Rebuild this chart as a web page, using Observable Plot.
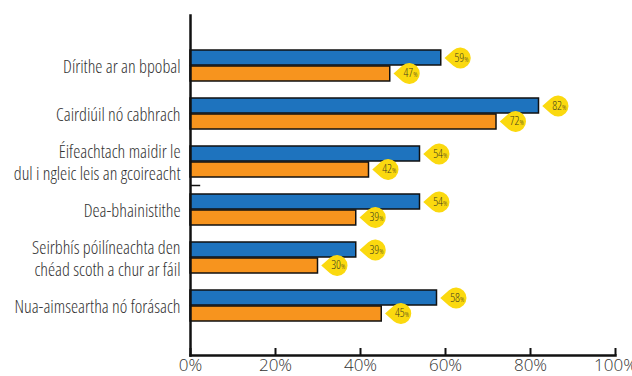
<!DOCTYPE html>
<html>
<head>
<meta charset="utf-8">
<script src="https://cdn.jsdelivr.net/npm/d3@7"></script>
<script src="https://cdn.jsdelivr.net/npm/@observablehq/plot@0.6"></script>
<style>
  html, body { margin: 0; padding: 0; background: #fff; }
  #chart svg { display: block; overflow: visible; }
  .yax text, .bub text { font-stretch: 85%; }
</style>
</head>
<body>
<div id="chart"></div>
<script>
const categories = [
  "Dírithe ar an bpobal",
  "Cairdiúil nó cabhrach",
  "Éifeachtach maidir le\ndul i ngleic leis an gcoireacht",
  "Dea-bhainistithe",
  "Seirbhís póilíneachta den\nchéad scoth a chur ar fáil",
  "Nua-aimseartha nó forásach"
];
const seriesNames = ["Sraith 1", "Sraith 2"];
const series1 = [59, 82, 54, 54, 39, 58];
const series2 = [47, 72, 42, 39, 30, 45];
const xTicks = [0, 20, 40, 60, 80, 100];

const rows1 = categories.map((c, i) => ({cat: c, series: seriesNames[0], value: series1[i]}));
const rows2 = categories.map((c, i) => ({cat: c, series: seriesNames[1], value: series2[i]}));

const blue = "#1e73be";
const orange = "#f7941e";
const yellow = "#fbd90f";
const labelColor = "#44401f";
const font = "'Open Sans', 'DejaVu Sans', sans-serif";

// teardrop symbol pointing left
const teardrop = {
  draw(context, size) {
    const r = Math.sqrt(size / Math.PI);
    const d = 1.5 * r;
    const a = Math.acos(r / d);
    context.moveTo(-d, 0);
    context.lineTo(r * Math.cos(Math.PI + a), r * Math.sin(Math.PI + a));
    context.arc(0, 0, r, Math.PI + a, 3 * Math.PI - a);
    context.closePath();
  }
};

function labelMarks(rows, dy) {
  return [
    Plot.dot(rows, {x: "value", y: "cat", symbol: teardrop, r: 10.5, fill: yellow, stroke: "none", dx: 19, dy}),
    Plot.text(rows, {x: "value", y: "cat", text: d => String(d.value), dx: 23, dy, textAnchor: "end", fontSize: 12, fill: labelColor, fontFamily: font, className: "bub"}),
    Plot.text(rows, {x: "value", y: "cat", text: () => "%", dx: 23, dy: dy + 1.5, textAnchor: "start", fontSize: 7, fill: labelColor, fontFamily: font, className: "bub"})
  ];
}

const chart = Plot.plot({
  width: 632,
  height: 376,
  marginLeft: 190,
  marginRight: 17,
  marginTop: 15,
  marginBottom: 21,
  style: {fontFamily: font, fontWeight: 300, background: "#fff", color: "#333"},
  x: {domain: [0, 100], label: null},
  y: {domain: categories, paddingInner: 0, paddingOuter: 0.54, label: null},
  marks: [
    Plot.barX(rows1, {x: "value", y: "cat", fill: blue, stroke: "#111", strokeWidth: 1.5, insetTop: 9, insetBottom: 24}),
    Plot.barX(rows2, {x: "value", y: "cat", fill: orange, stroke: "#111", strokeWidth: 1.5, insetTop: 25, insetBottom: 8}),
    ...labelMarks(rows1, -7.5),
    ...labelMarks(rows2, 8),
    Plot.ruleY([categories[3]], {x1: 0, x2: 2.4, dy: -24, stroke: "#111", strokeWidth: 1.5}),
    Plot.frame({anchor: "left", stroke: "#111", strokeWidth: 2.5}),
    Plot.frame({anchor: "bottom", stroke: "#111", strokeWidth: 2.5}),
    Plot.axisX(xTicks, {tickSize: -7, tickPadding: 10, strokeWidth: 2, stroke: "#111", tickFormat: d => d + "%", fontSize: 17, fill: "#333", fontFamily: font, label: null}),
    Plot.axisY({tickSize: 0, tickPadding: 10, fontSize: 18, lineHeight: 1.22, fill: "#333", fontFamily: font, textOverflow: null, lineWidth: Infinity, label: null, className: "yax"})
  ]
});
document.getElementById("chart").appendChild(chart);
</script>
</body>
</html>
